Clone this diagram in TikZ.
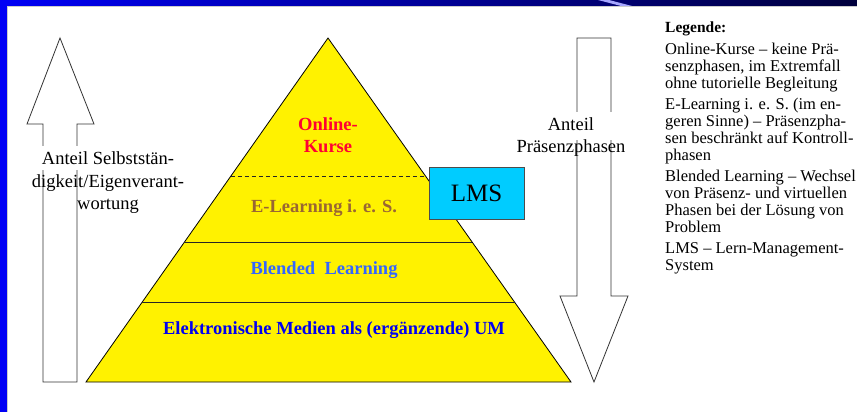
\documentclass[tikz,border=0pt]{standalone}
\usepackage{fontspec}
\setmainfont{Liberation Serif}
\usetikzlibrary{calc,positioning}
\definecolor{onlinered}{RGB}{255,0,51}
\definecolor{elearnbrown}{RGB}{153,102,51}
\definecolor{blendedblue}{RGB}{51,102,255}
\definecolor{medienblue}{RGB}{0,0,240}
\definecolor{lmscyan}{RGB}{0,204,255}
\definecolor{framenavy}{RGB}{0,0,60}
\definecolor{frameblue}{RGB}{0,0,245}
\tikzset{
  pyramid/.style={fill=yellow, draw=black, line width=0.8pt},
  layerline/.style={draw=black!85, line width=0.8pt},
  bigarrow/.style={fill=white, draw=black!80, line width=0.8pt},
  layerlabel/.style={font=\bfseries\fontsize{18.5}{22}\selectfont, align=center},
  arrowtext/.style={font=\fontsize{18.5}{22.5}\selectfont, align=center},
  lmsbox/.style={
    rectangle,
    fill=lmscyan,
    draw=black!70, line width=0.8pt,
    minimum width=95pt,
    minimum height=52pt,
    font=\fontsize{25}{30}\selectfont},
  legende/.style={font=\fontsize{16.5}{17}\selectfont, align=left,
    anchor=north west, inner sep=0pt},
}
\begin{document}
\begin{tikzpicture}[x=1pt,y=-1pt]
    \useasboundingbox (0,0) rectangle (857,412);
    % frame
    \fill[white] (0,0) rectangle (857,412);
    \shade[left color=frameblue, right color=framenavy] (0,0) rectangle (857,6);
    \fill[blue!35!white] (598,0) -- (609,0) -- (632,6) -- (621,6) -- cycle;
    \fill[frameblue] (0,0) rectangle (7,412);
    \draw[gray!40] (7.5,6.5) -- (7.5,412);
    \draw[gray!40] (7.5,6.5) -- (857,6.5);

    % arrows
    \draw[bigarrow] (43,382) -- (43,124) -- (27,124) -- (60,38) -- (94,124)
        -- (77,124) -- (77,382) -- cycle;
    \draw[bigarrow] (577,38) -- (611,38) -- (611,296) -- (628,296) -- (594,382)
        -- (560,296) -- (577,296) -- cycle;
    \fill[white] (38,146) rectangle (182,170);
    \fill[white] (525,112) rectangle (618,140);
    \node[arrowtext] (selbsttext) at (108,183) {Anteil Selbststän-\\digkeit/Eigenverant-\\wortung};
    \node[arrowtext] (praestext) at (571,137) {Anteil\\Präsenzphasen};

    % pyramid
    \coordinate (apex) at (328,38);
    \coordinate (bl) at (86,382);
    \coordinate (br) at (571,382);
    \draw[pyramid] (apex) -- (br) -- (bl) -- cycle;
    \draw[layerline, dash pattern=on 4pt off 3pt] ($(apex)!0.401!(bl)$) -- ($(apex)!0.401!(br)$);
    \draw[layerline] ($(apex)!0.593!(bl)$) -- ($(apex)!0.593!(br)$);
    \draw[layerline] ($(apex)!0.770!(bl)$) -- ($(apex)!0.770!(br)$);

    \node[layerlabel, text=onlinered] (online) at (328,135) {Online-\\Kurse};
    \node[layerlabel, text=elearnbrown] (elearn) at (324,208) {E-Learning i. e. S.};
    \node[layerlabel, text=blendedblue] (blended) at (324,270) {Blended\ \ Learning};
    \node[layerlabel, text=medienblue] (medien) at (334,330) {Elektronische Medien als (ergänzende) UM};

    \node[lmsbox] (lms) at (476.5,193) {LMS};

    % legend
    \node[legende] (legend) at (665,22) {{\bfseries\fontsize{15.5}{17}\selectfont Legende:}\\[5pt]
        Online-Kurse -- keine Prä-\\
        senzphasen, im Extremfall\\
        ohne tutorielle Begleitung\\[4pt]
        E-Learning i. e. S. (im en-\\
        geren Sinne) -- Präsenzpha-\\
        sen beschränkt auf Kontroll-\\
        phasen\\[4pt]
        Blended Learning -- Wechsel\\
        von Präsenz- und virtuellen\\
        Phasen bei der Lösung von\\
        Problem\\[4pt]
        LMS -- Lern-Management-\\
        System};
\end{tikzpicture}
\end{document}
